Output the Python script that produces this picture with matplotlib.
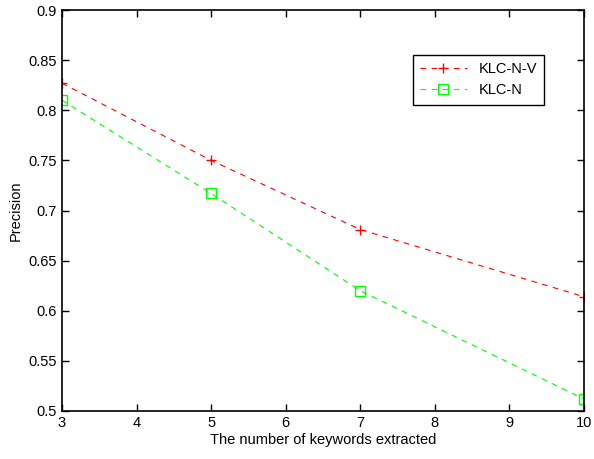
import matplotlib
matplotlib.use("Agg")
import matplotlib.pyplot as plt

x = [3, 5, 7, 10]
klc_n_v = [0.827, 0.750, 0.681, 0.614]
klc_n = [0.810, 0.717, 0.620, 0.512]

plt.rcParams['font.family'] = ['Liberation Sans', 'DejaVu Sans']
fig = plt.figure(figsize=(5.94, 4.59), dpi=100)
ax = fig.add_axes([62/594, 1-411/459, (584-62)/594, (411-10)/459])

ax.plot(x, klc_n_v, color='#ff0000', linestyle=(0, (5, 5)), linewidth=0.8,
        marker='+', markersize=7.5, markeredgewidth=1.0, label='KLC-N-V')
ax.plot(x, klc_n, color='#00ff00', linestyle=(0, (5, 5)), linewidth=0.8,
        marker='s', markersize=7, markerfacecolor='none', markeredgewidth=1.0, label='KLC-N')

ax.set_xlim(3, 10)
ax.set_ylim(0.5, 0.9)
ax.set_xticks(range(3, 11))
ax.set_yticks([0.5, 0.55, 0.6, 0.65, 0.7, 0.75, 0.8, 0.85, 0.9])
ax.set_yticklabels(['0.5', '0.55', '0.6', '0.65', '0.7', '0.75', '0.8', '0.85', '0.9'])
ax.tick_params(direction='in', top=True, right=True, length=5, width=1, labelsize=10.5)
for s in ax.spines.values():
    s.set_linewidth(1.2)
ax.set_xlabel('The number of keywords extracted', fontsize=10.5, labelpad=2)
ax.set_ylabel('Precision', fontsize=10.5, labelpad=4)

leg = ax.legend(loc='upper left', bbox_to_anchor=(0.672, 0.888), fontsize=10.5,
                frameon=True, fancybox=False, edgecolor='black', framealpha=1,
                borderpad=0.5, handlelength=3.2, borderaxespad=0)
leg.get_frame().set_linewidth(1.0)

fig.savefig('out.png', dpi=100)
